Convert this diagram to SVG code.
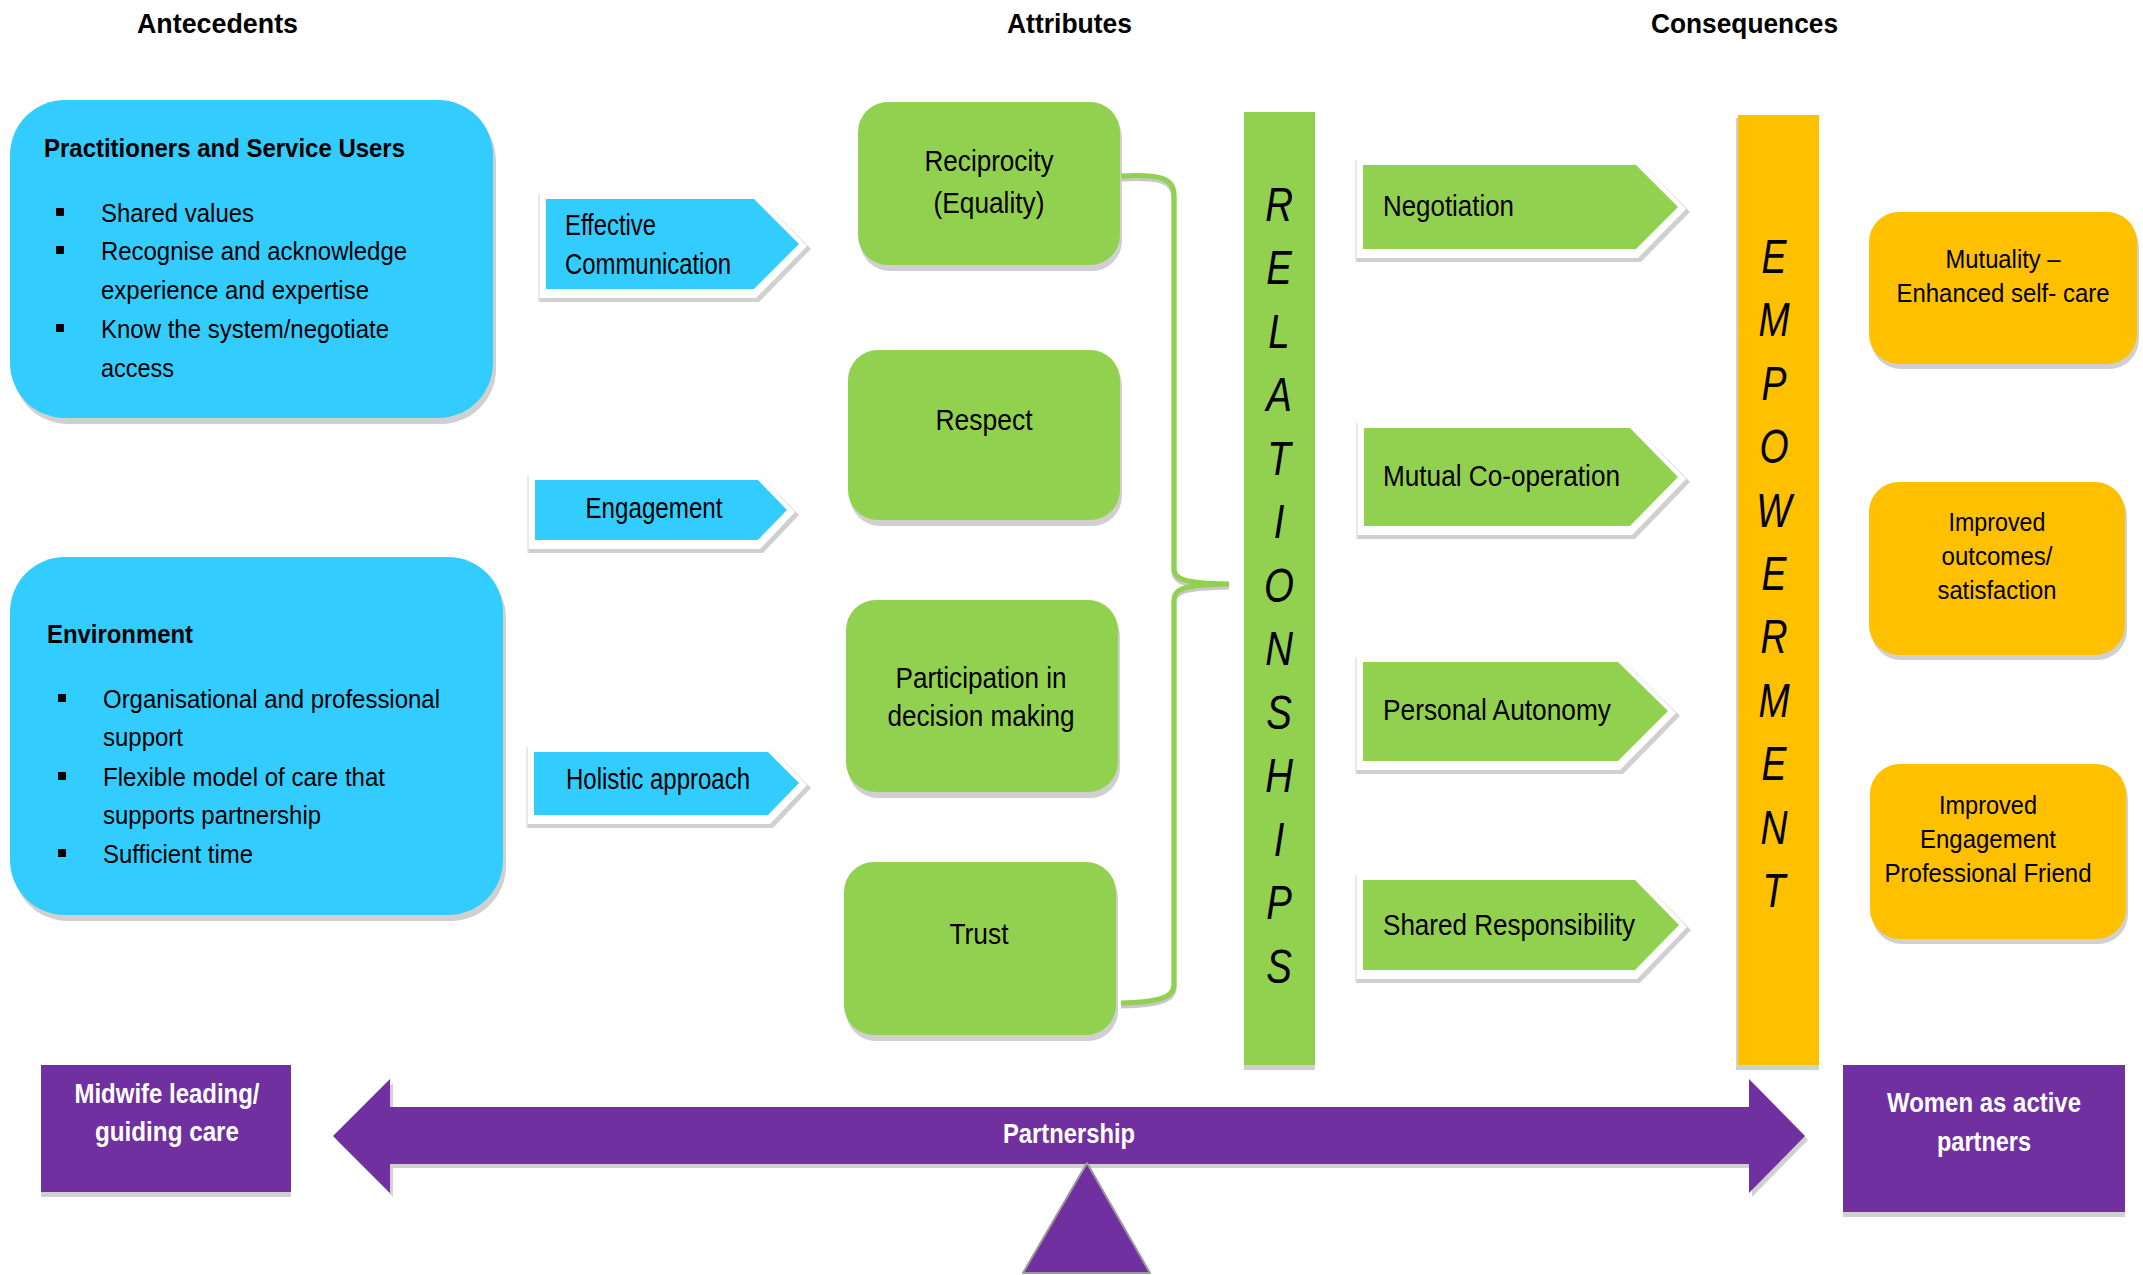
<svg xmlns="http://www.w3.org/2000/svg" width="2143" height="1275" viewBox="0 0 2143 1275">
<style>
.blue{fill:#33CCFF}
.green{fill:#92D050}
.orange{fill:#FFC000}
.purple{fill:#7030A0}
.sh{fill:#d0d0d0}
.wh{fill:#ffffff}
.edge{stroke:#e2e2e2;stroke-width:1.5}
.t{font-family:'Liberation Sans Narrow','Liberation Sans',Arial,sans-serif;fill:#000}
.b{font-weight:bold}
.w{fill:#fff}
.h{font-size:27px}
.bx{font-size:26px}
.at{font-size:29px}
.o{font-family:'Liberation Sans',Arial,sans-serif;font-size:25px;fill:#000}
.big{font-family:'Liberation Sans',Arial,sans-serif;font-style:italic;font-size:48px;fill:#000}
.pu{font-size:28px}
.bul{fill:#000}
</style>

<g id="headers">
<text class="t b h" x="137" y="33" textLength="161" lengthAdjust="spacingAndGlyphs">Antecedents</text>
<text class="t b h" x="1007" y="33" textLength="125" lengthAdjust="spacingAndGlyphs">Attributes</text>
<text class="t b h" x="1651" y="33" textLength="187" lengthAdjust="spacingAndGlyphs">Consequences</text>
</g>

<g id="practitioners">
<rect class="sh" x="13" y="106" width="483" height="318" rx="55"/>
<rect class="blue" x="10" y="100" width="483" height="318" rx="55"/>
<text class="t b bx" x="44" y="157" textLength="361" lengthAdjust="spacingAndGlyphs">Practitioners and Service Users</text>
<rect class="bul" x="56" y="208" width="8" height="8"/>
<rect class="bul" x="56" y="246" width="8" height="8"/>
<rect class="bul" x="56" y="324" width="8" height="8"/>
<text class="t bx" x="101" y="222" textLength="153" lengthAdjust="spacingAndGlyphs">Shared values</text>
<text class="t bx" x="101" y="260" textLength="306" lengthAdjust="spacingAndGlyphs">Recognise and acknowledge</text>
<text class="t bx" x="101" y="299" textLength="268" lengthAdjust="spacingAndGlyphs">experience and expertise</text>
<text class="t bx" x="101" y="338" textLength="288" lengthAdjust="spacingAndGlyphs">Know the system/negotiate</text>
<text class="t bx" x="101" y="377" textLength="73" lengthAdjust="spacingAndGlyphs">access</text>
</g>

<g id="environment">
<rect class="sh" x="13" y="563" width="493" height="358" rx="55"/>
<rect class="blue" x="10" y="557" width="493" height="358" rx="55"/>
<text class="t b bx" x="47" y="643" textLength="146" lengthAdjust="spacingAndGlyphs">Environment</text>
<rect class="bul" x="58" y="694" width="8" height="8"/>
<rect class="bul" x="58" y="772" width="8" height="8"/>
<rect class="bul" x="58" y="849" width="8" height="8"/>
<text class="t bx" x="103" y="708" textLength="337" lengthAdjust="spacingAndGlyphs">Organisational and professional</text>
<text class="t bx" x="103" y="746" textLength="80" lengthAdjust="spacingAndGlyphs">support</text>
<text class="t bx" x="103" y="786" textLength="282" lengthAdjust="spacingAndGlyphs">Flexible model of care that</text>
<text class="t bx" x="103" y="824" textLength="218" lengthAdjust="spacingAndGlyphs">supports partnership</text>
<text class="t bx" x="103" y="863" textLength="150" lengthAdjust="spacingAndGlyphs">Sufficient time</text>
</g>

<g id="effective-communication">
<polygon class="sh" points="539,194 756,194 808,246 811,249 759,302 539,302"/>
<polygon class="wh" points="539,194 756,194 807,246 756,298 539,298"/>
<line class="edge" x1="539" y1="194" x2="539" y2="302"/>
<polygon class="blue" points="546,199 754,199 799,244 754,289 546,289"/>
<text class="t at" x="565" y="235" textLength="91" lengthAdjust="spacingAndGlyphs">Effective</text>
<text class="t at" x="565" y="274" textLength="166" lengthAdjust="spacingAndGlyphs">Communication</text>
</g>

<g id="engagement">
<polygon class="sh" points="528,475 760,475 796,512 799,515 763,553 528,553"/>
<polygon class="wh" points="528,475 760,475 795,512 760,549 528,549"/>
<line class="edge" x1="528" y1="475" x2="528" y2="553"/>
<polygon class="blue" points="535,480 758,480 787,510 758,540 535,540"/>
<text class="t at" x="654" y="518" text-anchor="middle" textLength="137" lengthAdjust="spacingAndGlyphs">Engagement</text>
</g>

<g id="holistic-approach">
<polygon class="sh" points="527,747 770,747 808,785 811,788 773,828 527,828"/>
<polygon class="wh" points="527,747 770,747 807,785 770,824 527,824"/>
<line class="edge" x1="527" y1="747" x2="527" y2="828"/>
<polygon class="blue" points="534,752 768,752 799,783 768,815 534,815"/>
<text class="t at" x="658" y="789" text-anchor="middle" textLength="184" lengthAdjust="spacingAndGlyphs">Holistic approach</text>
</g>

<g id="reciprocity">
<rect class="sh" x="860" y="108" width="262" height="163" rx="30"/>
<rect class="green" x="858" y="102" width="262" height="163" rx="30"/>
<text class="t at" x="989" y="171" text-anchor="middle" textLength="129" lengthAdjust="spacingAndGlyphs">Reciprocity</text>
<text class="t at" x="989" y="213" text-anchor="middle" textLength="111" lengthAdjust="spacingAndGlyphs">(Equality)</text>
</g>

<g id="respect">
<rect class="sh" x="850" y="356" width="272" height="170" rx="30"/>
<rect class="green" x="848" y="350" width="272" height="170" rx="30"/>
<text class="t at" x="984" y="430" text-anchor="middle" textLength="97" lengthAdjust="spacingAndGlyphs">Respect</text>
</g>

<g id="participation">
<rect class="sh" x="848" y="606" width="272" height="192" rx="30"/>
<rect class="green" x="846" y="600" width="272" height="192" rx="30"/>
<text class="t at" x="981" y="688" text-anchor="middle" textLength="171" lengthAdjust="spacingAndGlyphs">Participation in</text>
<text class="t at" x="981" y="726" text-anchor="middle" textLength="187" lengthAdjust="spacingAndGlyphs">decision making</text>
</g>

<g id="trust">
<rect class="sh" x="846" y="868" width="272" height="173" rx="30"/>
<rect class="green" x="844" y="862" width="272" height="173" rx="30"/>
<text class="t at" x="979" y="944" text-anchor="middle" textLength="59" lengthAdjust="spacingAndGlyphs">Trust</text>
</g>

<g id="connectors">
<path d="M1121,179 C1160,177 1174,181 1174,198 L1174,571 C1174,583 1185,586 1229,587 C1185,588 1174,591 1174,603 L1174,988 C1174,1000 1160,1005 1121,1006" fill="none" stroke="#c8c8c8" stroke-width="5"/>
<path d="M1121,176 C1160,174 1174,178 1174,195 L1174,568 C1174,580 1185,583 1229,584 C1185,585 1174,588 1174,600 L1174,985 C1174,997 1160,1002 1121,1003" fill="none" stroke="#92D050" stroke-width="5"/>
</g>

<g id="relationships">
<rect class="sh" x="1244" y="116" width="71" height="954"/>
<rect class="green" x="1244" y="112" width="71" height="953"/>
<text class="big" transform="matrix(0.8,0,0,1,1279,0)" text-anchor="middle">
<tspan x="0" y="221">R</tspan><tspan x="0" y="284">E</tspan><tspan x="0" y="348">L</tspan><tspan x="0" y="411">A</tspan><tspan x="0" y="475">T</tspan><tspan x="0" y="538">I</tspan><tspan x="0" y="602">O</tspan><tspan x="0" y="665">N</tspan><tspan x="0" y="729">S</tspan><tspan x="0" y="792">H</tspan><tspan x="0" y="856">I</tspan><tspan x="0" y="919">P</tspan><tspan x="0" y="983">S</tspan>
</text>
</g>

<g id="negotiation">
<polygon class="sh" points="1356,160 1638,160 1687,209 1690,212 1641,262 1356,262"/>
<polygon class="wh" points="1356,160 1638,160 1686,209 1638,258 1356,258"/>
<line class="edge" x1="1356" y1="160" x2="1356" y2="262"/>
<polygon class="green" points="1363,165 1636,165 1678,207 1636,249 1363,249"/>
<text class="t at" x="1383" y="216" textLength="131" lengthAdjust="spacingAndGlyphs">Negotiation</text>
</g>

<g id="mutual-cooperation">
<polygon class="sh" points="1357,423 1632,423 1687,479 1690,482 1635,539 1357,539"/>
<polygon class="wh" points="1357,423 1632,423 1686,479 1632,535 1357,535"/>
<line class="edge" x1="1357" y1="423" x2="1357" y2="539"/>
<polygon class="green" points="1364,428 1630,428 1678,477 1630,526 1364,526"/>
<text class="t at" x="1383" y="486" textLength="237" lengthAdjust="spacingAndGlyphs">Mutual Co-operation</text>
</g>

<g id="personal-autonomy">
<polygon class="sh" points="1356,657 1620,657 1677,713 1680,716 1623,774 1356,774"/>
<polygon class="wh" points="1356,657 1620,657 1676,713 1620,770 1356,770"/>
<line class="edge" x1="1356" y1="657" x2="1356" y2="774"/>
<polygon class="green" points="1363,662 1618,662 1668,711 1618,761 1363,761"/>
<text class="t at" x="1383" y="720" textLength="228" lengthAdjust="spacingAndGlyphs">Personal Autonomy</text>
</g>

<g id="shared-responsibility">
<polygon class="sh" points="1356,875 1637,875 1688,927 1691,930 1640,983 1356,983"/>
<polygon class="wh" points="1356,875 1637,875 1687,927 1637,979 1356,979"/>
<line class="edge" x1="1356" y1="875" x2="1356" y2="983"/>
<polygon class="green" points="1363,880 1635,880 1679,925 1635,970 1363,970"/>
<text class="t at" x="1383" y="935" textLength="252" lengthAdjust="spacingAndGlyphs">Shared Responsibility</text>
</g>

<g id="empowerment">
<rect class="sh" x="1736" y="118" width="83" height="952"/>
<rect class="orange" x="1738" y="115" width="81" height="950"/>
<text class="big" transform="matrix(0.78,0,0,1,1774,0)" text-anchor="middle">
<tspan x="0" y="273">E</tspan><tspan x="0" y="336">M</tspan><tspan x="0" y="400">P</tspan><tspan x="0" y="463">O</tspan><tspan x="0" y="527">W</tspan><tspan x="0" y="590">E</tspan><tspan x="0" y="653">R</tspan><tspan x="0" y="717">M</tspan><tspan x="0" y="780">E</tspan><tspan x="0" y="844">N</tspan><tspan x="0" y="907">T</tspan>
</text>
</g>

<g id="mutuality">
<rect class="sh" x="1871" y="217" width="268" height="152" rx="30"/>
<rect class="orange" x="1869" y="212" width="268" height="152" rx="30"/>
<text class="o" x="2003" y="268" text-anchor="middle" textLength="115" lengthAdjust="spacingAndGlyphs">Mutuality –</text>
<text class="o" x="2003" y="302" text-anchor="middle" textLength="213" lengthAdjust="spacingAndGlyphs">Enhanced self- care</text>
</g>

<g id="improved-outcomes">
<rect class="sh" x="1871" y="487" width="256" height="173" rx="30"/>
<rect class="orange" x="1869" y="482" width="256" height="173" rx="30"/>
<text class="o" x="1997" y="531" text-anchor="middle" textLength="97" lengthAdjust="spacingAndGlyphs">Improved</text>
<text class="o" x="1997" y="565" text-anchor="middle" textLength="111" lengthAdjust="spacingAndGlyphs">outcomes/</text>
<text class="o" x="1997" y="599" text-anchor="middle" textLength="119" lengthAdjust="spacingAndGlyphs">satisfaction</text>
</g>

<g id="improved-engagement">
<rect class="sh" x="1872" y="769" width="256" height="175" rx="30"/>
<rect class="orange" x="1870" y="764" width="256" height="175" rx="30"/>
<text class="o" x="1988" y="814" text-anchor="middle" textLength="98" lengthAdjust="spacingAndGlyphs">Improved</text>
<text class="o" x="1988" y="848" text-anchor="middle" textLength="136" lengthAdjust="spacingAndGlyphs">Engagement</text>
<text class="o" x="1988" y="882" text-anchor="middle" textLength="207" lengthAdjust="spacingAndGlyphs">Professional Friend</text>
</g>

<g id="midwife">
<rect class="sh" x="41" y="1070" width="250" height="127"/>
<rect class="purple" x="41" y="1065" width="250" height="127"/>
<text class="t b w pu" x="167" y="1103" text-anchor="middle" textLength="185" lengthAdjust="spacingAndGlyphs">Midwife leading/</text>
<text class="t b w pu" x="167" y="1141" text-anchor="middle" textLength="144" lengthAdjust="spacingAndGlyphs">guiding care</text>
</g>

<g id="partnership">
<polygon class="sh" points="336,1140 393,1083 393,1111 1752,1111 1752,1083 1808,1140 1752,1197 1752,1168 393,1168 393,1197"/>
<polygon class="purple" points="333,1136 390,1079 390,1107 1749,1107 1749,1079 1805,1136 1749,1193 1749,1164 390,1164 390,1193"/>
<text class="t b w pu" x="1069" y="1143" text-anchor="middle" textLength="132" lengthAdjust="spacingAndGlyphs">Partnership</text>
<polygon class="purple" points="1087,1163 1023,1273 1150,1273" stroke="#9a9a9a" stroke-width="2" stroke-linejoin="round"/>
</g>

<g id="women">
<rect class="sh" x="1843" y="1070" width="282" height="147"/>
<rect class="purple" x="1843" y="1065" width="282" height="147"/>
<text class="t b w pu" x="1984" y="1112" text-anchor="middle" textLength="194" lengthAdjust="spacingAndGlyphs">Women as active</text>
<text class="t b w pu" x="1984" y="1151" text-anchor="middle" textLength="94" lengthAdjust="spacingAndGlyphs">partners</text>
</g>
</svg>
